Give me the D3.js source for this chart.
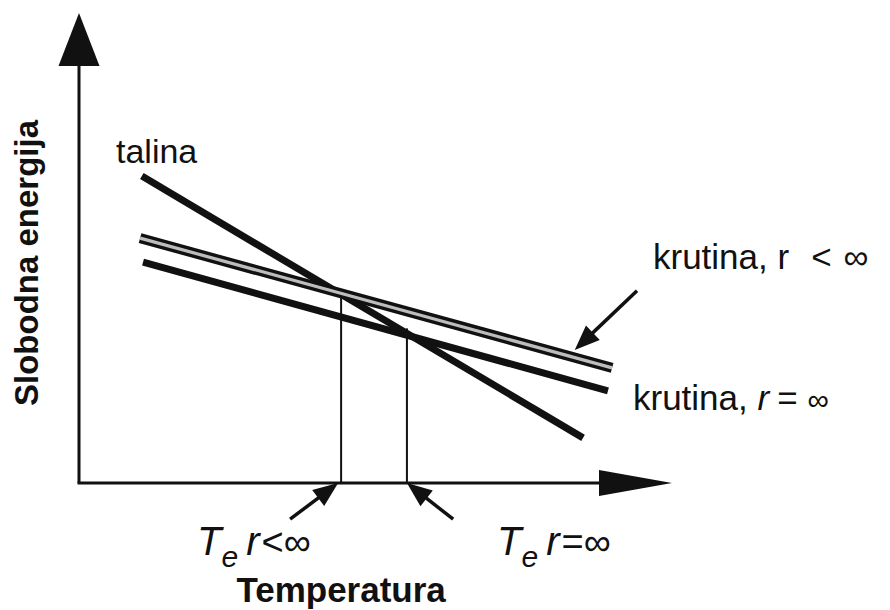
<!DOCTYPE html>
<html>
<head>
<meta charset="utf-8">
<script src="https://cdn.jsdelivr.net/npm/d3@7"></script>
<style>
  html, body { margin: 0; padding: 0; background: #fff; }
  svg { display: block; }
  text { font-family: "Liberation Sans", Arial, Helvetica, sans-serif; fill: #111; }
</style>
</head>
<body>
<svg id="chart" width="890" height="610"></svg>
<script>
// ---- data (abstract units: temperature t, free energy g) ----
const talina      = [{t: 1.06, g: 6.53}, {t: 8.50, g: 0.96}];   // liquid
const krutinaFin  = [{t: 1.03, g: 5.21}, {t: 8.99, g: 2.45}];   // solid, r < inf (double line)
const krutinaInf  = [{t: 1.08, g: 4.70}, {t: 8.92, g: 1.96}];   // solid, r = inf
const teValues    = [4.42, 5.53];                                // equilibrium temperatures
const axisLabels  = ["Temperatura", "Slobodna energija"];
const seriesLabels = ["talina", "krutina, r", "krutina, "];
// annotation arrows (tail -> tip) in data units
const arrows = [
  {from: {t: 9.41, g: 4.09}, to: {t: 8.36, g: 2.83}},
  {from: {t: 3.56, g: -0.77}, to: {t: 4.37, g: 0.0}},
  {from: {t: 6.31, g: -0.77}, to: {t: 5.53, g: 0.0}}
];

const svg = d3.select("#chart");
const x = d3.scaleLinear().domain([0, 10]).range([79, 672]);
const y = d3.scaleLinear().domain([0, 10]).range([483, 13]);

const line = d3.line().x(d => x(d.t)).y(d => y(d.g));

function arrowHead(g, x1, y1, x2, y2, len, hw, sw) {
  const dx = x2 - x1, dy = y2 - y1, L = Math.hypot(dx, dy);
  const ux = dx / L, uy = dy / L, px = -uy, py = ux;
  const bx = x2 - ux * len, by = y2 - uy * len;
  g.append("line").attr("x1", x1).attr("y1", y1).attr("x2", bx + ux * 2).attr("y2", by + uy * 2)
    .attr("stroke", "#111").attr("stroke-width", sw);
  g.append("path")
    .attr("d", `M${x2},${y2}L${bx + px * hw},${by + py * hw}L${bx - px * hw},${by - py * hw}Z`)
    .attr("fill", "#111");
}

// ---- axes ----
const axG = svg.append("g");
axG.append("line").attr("x1", x(0)).attr("y1", y(0)).attr("x2", x(0)).attr("y2", y(10) + 50)
  .attr("stroke", "#111").attr("stroke-width", 3);
axG.append("line").attr("x1", x(0) - 1.5).attr("y1", y(0)).attr("x2", x(10) - 70).attr("y2", y(0))
  .attr("stroke", "#111").attr("stroke-width", 3);
arrowHead(axG, x(0), y(0), x(0), y(10), 53, 20.5, 0.1);
arrowHead(axG, x(0), y(0), x(10), y(0), 73, 13, 0.1);

// ---- vertical equilibrium lines ----
const talinaAt = t => {
  const a = talina[0], b = talina[1];
  return a.g + (t - a.t) * (b.g - a.g) / (b.t - a.t);
};
svg.append("g").selectAll("line").data(teValues).join("line")
  .attr("x1", d => x(d)).attr("x2", d => x(d))
  .attr("y1", y(0)).attr("y2", d => y(talinaAt(d)) - 5)
  .attr("stroke", "#111").attr("stroke-width", 2);

// ---- series lines ----
svg.append("path").attr("d", line(krutinaInf)).attr("fill", "none")
  .attr("stroke", "#111").attr("stroke-width", 7);
svg.append("path").attr("d", line(talina)).attr("fill", "none")
  .attr("stroke", "#111").attr("stroke-width", 7);
svg.append("path").attr("d", line(krutinaFin)).attr("fill", "none")
  .attr("stroke", "#111").attr("stroke-width", 10);
svg.append("path").attr("d", line(krutinaFin)).attr("fill", "none")
  .attr("stroke", "#bdbdbd").attr("stroke-width", 3.2);

// ---- annotation arrows ----
const anG = svg.append("g");
arrows.forEach(a => arrowHead(anG, x(a.from.t), y(a.from.g), x(a.to.t), y(a.to.g), 25, 10, 3.5));

// ---- texts ----
svg.append("text").attr("x", 116).attr("y", 163).attr("font-size", 34).text(seriesLabels[0]);

const t1 = svg.append("text").attr("x", 653).attr("y", 269).attr("font-size", 35);
t1.append("tspan").text(seriesLabels[1]);
t1.append("tspan").attr("dx", 22).text("<");
t1.append("tspan").attr("dx", 12).text("∞");

const t2 = svg.append("text").attr("x", 633).attr("y", 410).attr("font-size", 35);
t2.append("tspan").text(seriesLabels[2]);
t2.append("tspan").attr("font-style", "italic").text("r");
t2.append("tspan").attr("dx", 8).text("=");
t2.append("tspan").attr("dx", 10).attr("font-size", 30).text("∞");

function teLabel(x0, rel) {
  const t = svg.append("text").attr("x", x0).attr("y", 555).attr("font-size", 40);
  t.append("tspan").attr("font-style", "italic").text("T");
  t.append("tspan").attr("font-style", "italic").attr("font-size", 30).attr("dy", 12).text("e");
  t.append("tspan").attr("font-style", "italic").attr("dx", 8).attr("dy", -12).text("r");
  t.append("tspan").attr("font-size", 38).attr("dx", 2).text(rel + "∞");
}
teLabel(197, "<");
teLabel(497, "=");

svg.append("text").attr("x", x(teValues[0])).attr("y", 602).attr("text-anchor", "middle")
  .attr("font-size", 35).attr("font-weight", "bold").text(axisLabels[0]);

svg.append("text").attr("transform", "translate(38,263) rotate(-90)")
  .attr("text-anchor", "middle").attr("font-size", 33).attr("font-weight", "bold").text(axisLabels[1]);
</script>
</body>
</html>
